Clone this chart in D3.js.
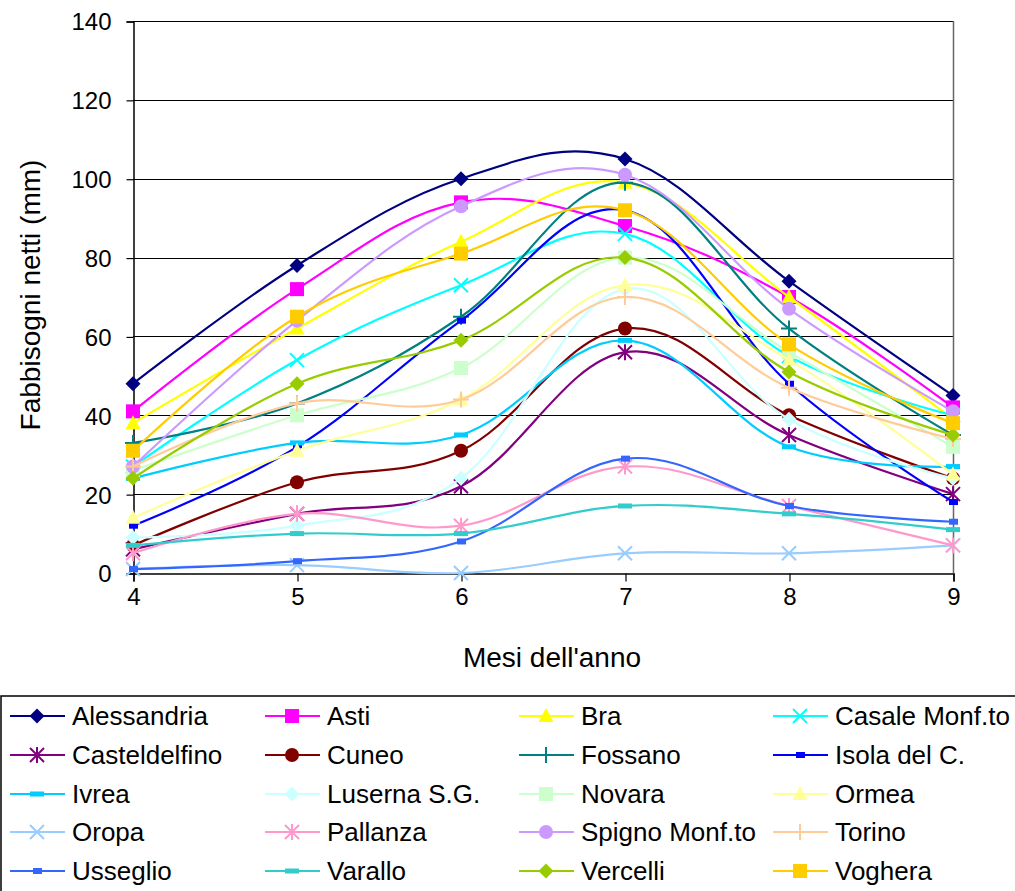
<!DOCTYPE html>
<html>
<head>
<meta charset="utf-8">
<script src="https://cdn.jsdelivr.net/npm/d3@7"></script>
<style>
  html, body { margin: 0; padding: 0; background: #fff; }
  svg { display: block; font-family: Arial, "Liberation Sans", sans-serif; }
</style>
</head>
<body>
<svg id="chart" width="1015" height="891"></svg>
<script>
// Months of the year (x axis)
const months = [4, 5, 6, 7, 8, 9];
const yTicks = [0, 20, 40, 60, 80, 100, 120, 140];

// Net water requirement (mm) per station
const alessandria   = [48, 78, 100, 105, 74, 45];
const asti          = [41, 72, 94, 88, 70, 42];
const bra           = [38, 62, 84, 99, 70, 39];
const casale        = [27, 54, 73, 86, 55, 40];
const casteldelfino = [6, 15, 22, 56, 35, 20];
const cuneo         = [7, 23, 31, 62, 40, 24];
const fossano       = [33, 43, 65, 99, 62, 35];
const isola         = [12, 32, 64, 92, 48, 18];
const ivrea         = [24, 33, 35, 59, 32, 27];
const luserna       = [9, 12, 24, 72, 39, 24];
const novara        = [26, 40, 52, 80, 56, 32];
const ormea         = [14, 31, 44, 73, 54, 25];
const oropa         = [1, 2, 0, 5, 5, 7];
const pallanza      = [5, 15, 12, 27, 17, 7];
const spigno        = [27, 64, 93, 101, 67, 41];
const torino        = [27, 43, 44, 70, 47, 34];
const usseglio      = [1, 3, 8, 29, 17, 13];
const varallo       = [7, 10, 10, 17, 15, 11];
const vercelli      = [24, 48, 59, 80, 51, 35];
const voghera       = [31, 65, 81, 92, 58, 38];

const series = [
  { name: "Alessandria",     values: alessandria,   color: "#000080", marker: "diamond" },
  { name: "Asti",            values: asti,          color: "#FF00FF", marker: "square" },
  { name: "Bra",             values: bra,           color: "#FFFF00", marker: "triangle" },
  { name: "Casale Monf.to",  values: casale,        color: "#00FFFF", marker: "x" },
  { name: "Casteldelfino",   values: casteldelfino, color: "#800080", marker: "star" },
  { name: "Cuneo",           values: cuneo,         color: "#800000", marker: "circle" },
  { name: "Fossano",         values: fossano,       color: "#008080", marker: "plus" },
  { name: "Isola del C.",    values: isola,         color: "#0000FF", marker: "dash" },
  { name: "Ivrea",           values: ivrea,         color: "#00CCFF", marker: "bar" },
  { name: "Luserna S.G.",    values: luserna,       color: "#CCFFFF", marker: "diamond" },
  { name: "Novara",          values: novara,        color: "#CCFFCC", marker: "square" },
  { name: "Ormea",           values: ormea,         color: "#FFFF99", marker: "triangle" },
  { name: "Oropa",           values: oropa,         color: "#99CCFF", marker: "x" },
  { name: "Pallanza",        values: pallanza,      color: "#FF99CC", marker: "star" },
  { name: "Spigno Monf.to",  values: spigno,        color: "#CC99FF", marker: "circle" },
  { name: "Torino",          values: torino,        color: "#FFCC99", marker: "plus" },
  { name: "Usseglio",        values: usseglio,      color: "#3366FF", marker: "dash" },
  { name: "Varallo",         values: varallo,       color: "#33CCCC", marker: "bar" },
  { name: "Vercelli",        values: vercelli,      color: "#99CC00", marker: "diamond" },
  { name: "Voghera",         values: voghera,       color: "#FFCC00", marker: "square" }
];

const svg = d3.select("#chart");
const plot = { left: 133, right: 953, top: 21, bottom: 573 };

const x = d3.scaleLinear().domain([4, 9]).range([plot.left, plot.right]);
const y = d3.scaleLinear().domain([0, 140]).range([plot.bottom, plot.top]);

// Horizontal gridlines
svg.append("g").selectAll("line").data(yTicks.filter(d => d > 0)).join("line")
  .attr("x1", plot.left).attr("x2", plot.right)
  .attr("y1", d => Math.round(y(d)) + 0.5).attr("y2", d => Math.round(y(d)) + 0.5)
  .attr("stroke", "#000").attr("stroke-width", 1);

// Right frame edge
svg.append("line")
  .attr("x1", plot.right + 0.5).attr("x2", plot.right + 0.5)
  .attr("y1", plot.top).attr("y2", plot.bottom)
  .attr("stroke", "#666").attr("stroke-width", 1.5);

// Axes
const yAxis = d3.axisLeft(y).tickValues(yTicks).tickSize(7).tickPadding(15).tickFormat(d3.format("d"));
const xAxis = d3.axisBottom(x).tickValues(months).tickSize(8).tickPadding(6).tickFormat(d3.format("d"));

const gy = svg.append("g").attr("transform", `translate(${plot.left + 0.5},0.5)`).call(yAxis);
const gx = svg.append("g").attr("transform", `translate(0.5,${plot.bottom + 0.5})`).call(xAxis);
[gx, gy].forEach(g => {
  g.select(".domain").attr("stroke", "#000").attr("stroke-width", 1.5);
  g.selectAll(".tick line").attr("stroke", "#000").attr("stroke-width", 1.2);
  g.selectAll(".tick text").attr("fill", "#000").style("font-size", "24px")
    .style("font-family", "Arial, 'Liberation Sans', sans-serif");
});
gy.selectAll(".tick text").attr("dy", "0.35em");

// Axis titles
svg.append("text")
  .attr("x", 552).attr("y", 667)
  .attr("text-anchor", "middle").style("font-size", "28px").attr("fill", "#000")
  .text("Mesi dell'anno");
svg.append("text")
  .attr("transform", `translate(40,${(plot.top + plot.bottom) / 2 - 2}) rotate(-90)`)
  .attr("text-anchor", "middle").style("font-size", "28px").attr("fill", "#000")
  .text("Fabbisogni netti (mm)");

// Marker drawing
function drawMarker(g, type, color, cx, cy) {
  switch (type) {
    case "diamond":
      g.append("path").attr("d", `M${cx},${cy - 7.5}L${cx + 7.5},${cy}L${cx},${cy + 7.5}L${cx - 7.5},${cy}Z`)
        .attr("fill", color);
      break;
    case "square":
      g.append("rect").attr("x", cx - 7).attr("y", cy - 7).attr("width", 14).attr("height", 14)
        .attr("fill", color);
      break;
    case "triangle":
      g.append("path").attr("d", `M${cx},${cy - 8}L${cx + 7.5},${cy + 6}L${cx - 7.5},${cy + 6}Z`)
        .attr("fill", color);
      break;
    case "circle":
      g.append("circle").attr("cx", cx).attr("cy", cy).attr("r", 7).attr("fill", color);
      break;
    case "x":
      g.append("path").attr("d", `M${cx - 7},${cy - 7}L${cx + 7},${cy + 7}M${cx - 7},${cy + 7}L${cx + 7},${cy - 7}`)
        .attr("stroke", color).attr("stroke-width", 2).attr("fill", "none");
      break;
    case "star":
      g.append("path").attr("d", `M${cx - 7},${cy - 7}L${cx + 7},${cy + 7}M${cx - 7},${cy + 7}L${cx + 7},${cy - 7}M${cx},${cy - 8}L${cx},${cy + 8}`)
        .attr("stroke", color).attr("stroke-width", 2).attr("fill", "none");
      break;
    case "plus":
      g.append("path").attr("d", `M${cx - 8},${cy}L${cx + 8},${cy}M${cx},${cy - 8}L${cx},${cy + 8}`)
        .attr("stroke", color).attr("stroke-width", 2).attr("fill", "none");
      break;
    case "dash":
      g.append("rect").attr("x", cx - 4).attr("y", cy - 3).attr("width", 9).attr("height", 6)
        .attr("fill", color);
      break;
    case "bar":
      g.append("rect").attr("x", cx - 7).attr("y", cy - 2.5).attr("width", 14).attr("height", 5)
        .attr("fill", color);
      break;
  }
}

// Smoothed series lines with markers
const line = d3.line()
  .x((d, i) => x(months[i]))
  .y(d => y(d))
  .curve(d3.curveCardinal.tension(-0.1));

const seriesLayer = svg.append("g");
series.forEach(s => {
  const g = seriesLayer.append("g");
  g.append("path").attr("d", line(s.values))
    .attr("fill", "none").attr("stroke", s.color).attr("stroke-width", 2.2)
    .attr("stroke-linejoin", "round");
  s.values.forEach((v, i) => drawMarker(g, s.marker, s.color, x(months[i]), y(v)));
});

// Legend
const legend = svg.append("g");
legend.append("rect").attr("x", 1).attr("y", 696).attr("width", 1030).attr("height", 220)
  .attr("fill", "#fff").attr("stroke", "#000").attr("stroke-width", 1.5);

const colX = [10, 265, 519, 773];
const rowY = [716, 755, 794, 832, 871];
series.forEach((s, i) => {
  const cx0 = colX[i % 4], cy0 = rowY[Math.floor(i / 4)];
  const g = legend.append("g");
  g.append("line").attr("x1", cx0).attr("x2", cx0 + 55).attr("y1", cy0).attr("y2", cy0)
    .attr("stroke", s.color).attr("stroke-width", 2.2);
  drawMarker(g, s.marker, s.color, cx0 + 27, cy0);
  g.append("text").attr("x", cx0 + 62).attr("y", cy0).attr("dy", "0.36em")
    .style("font-size", "26px").attr("fill", "#000").text(s.name);
});
</script>
</body>
</html>
